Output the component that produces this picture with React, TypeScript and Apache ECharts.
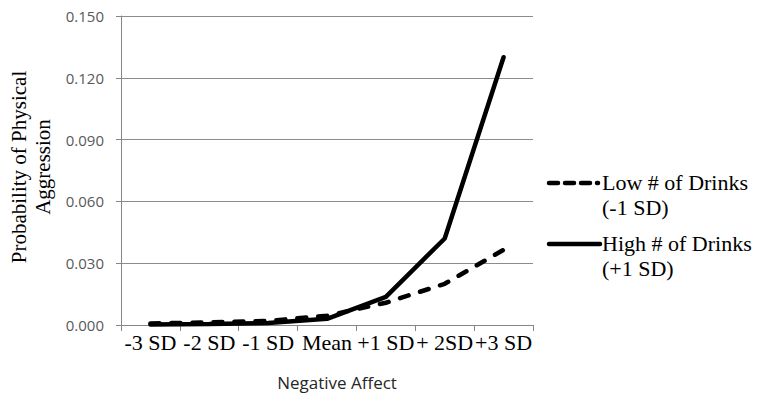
import React, { useEffect, useRef } from "react";
import * as echarts from "echarts";

const categories = ["-3 SD", "-2 SD", "-1 SD", "Mean", "+1 SD", "+ 2SD", "+3 SD"];
const lowDrinks = [0.0007, 0.0013, 0.002, 0.0045, 0.0108, 0.0200, 0.0365];
const highDrinks = [0.0002, 0.0005, 0.001, 0.003, 0.0137, 0.0420, 0.1300];
const yTicks = { min: 0, max: 0.15, interval: 0.03 };

const serif = "'Liberation Serif', 'Times New Roman', serif";
const sans = "'Open Sans', 'Noto Sans', sans-serif";

export default function App() {
  const ref = useRef<HTMLDivElement>(null);
  useEffect(() => {
    if (!ref.current) return;
    const chart = echarts.init(ref.current, null, { renderer: "svg" });
    chart.setOption({
      animation: false,
      backgroundColor: "#ffffff",
      grid: { left: 121, right: 231, top: 16, bottom: 77, containLabel: false },
      xAxis: {
        type: "category",
        data: categories,
        boundaryGap: true,
        axisLine: { show: true, lineStyle: { color: "#868686", width: 1 } },
        axisTick: { show: true, inside: false, length: 6, lineStyle: { color: "#868686" } },
        axisLabel: {
          interval: 0,
          hideOverlap: false,
          margin: 6,
          fontFamily: serif,
          fontSize: 22,
          color: "#000",
        },
      },
      yAxis: {
        type: "value",
        min: yTicks.min,
        max: yTicks.max,
        interval: yTicks.interval,
        axisLine: { show: true, lineStyle: { color: "#868686", width: 1 } },
        axisTick: { show: true, inside: false, length: 5, lineStyle: { color: "#868686" } },
        splitLine: { show: true, lineStyle: { color: "#8c8c8c", width: 1 } },
        axisLabel: {
          margin: 17,
          fontFamily: sans,
          fontSize: 15,
          color: "#595959",
          formatter: (v: number) => v.toFixed(3),
        },
      },
      series: [
        {
          name: "Low # of Drinks (-1 SD)",
          type: "line",
          data: lowDrinks,
          symbol: "none",
          lineStyle: { color: "#000", width: 4.5, type: [9, 12], cap: "round" },
          z: 3,
        },
        {
          name: "High # of Drinks (+1 SD)",
          type: "line",
          data: highDrinks,
          symbol: "none",
          lineStyle: { color: "#000", width: 4.5, type: "solid", cap: "round" },
          z: 2,
        },
      ],
      graphic: [
        {
          type: "text",
          x: 31,
          y: 167,
          rotation: Math.PI / 2,
          style: {
            text: "Probability of Physical\nAggression",
            fontFamily: serif,
            fontSize: 21,
            lineHeight: 24,
            fill: "#000",
            align: "center",
            verticalAlign: "middle",
          },
        },
        {
          type: "text",
          x: 337,
          y: 382,
          style: {
            text: "Negative Affect",
            fontFamily: sans,
            fontSize: 17,
            fill: "#262626",
            align: "center",
            verticalAlign: "middle",
          },
        },
        {
          type: "line",
          shape: { x1: 549, y1: 183, x2: 598, y2: 183 },
          style: { stroke: "#000", lineWidth: 4.5, lineDash: [9, 7], lineCap: "round" },
        },
        {
          type: "line",
          shape: { x1: 549, y1: 244, x2: 600, y2: 244 },
          style: { stroke: "#000", lineWidth: 4.5, lineCap: "round" },
        },
        {
          type: "text",
          x: 602,
          y: 170,
          style: {
            text: "Low # of Drinks\n(-1 SD)",
            fontFamily: serif,
            fontSize: 22,
            lineHeight: 25,
            fill: "#000",
            align: "left",
            verticalAlign: "top",
          },
        },
        {
          type: "text",
          x: 602,
          y: 231,
          style: {
            text: "High # of Drinks\n(+1 SD)",
            fontFamily: serif,
            fontSize: 22,
            lineHeight: 25,
            fill: "#000",
            align: "left",
            verticalAlign: "top",
          },
        },
      ],
    });
    return () => chart.dispose();
  }, []);
  return (
    <div
      ref={ref}
      style={{ position: "fixed", left: 0, top: 0, width: 764, height: 402, background: "#fff" }}
    />
  );
}
